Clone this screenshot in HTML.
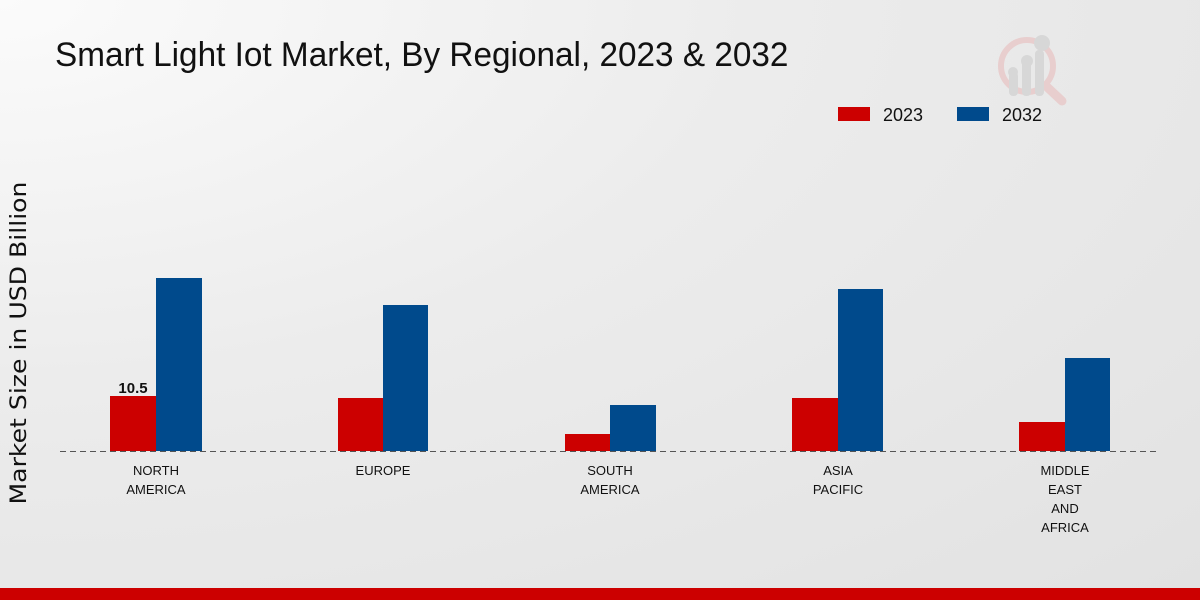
<!DOCTYPE html>
<html><head><meta charset="utf-8"><style>
html,body{margin:0;padding:0;width:1200px;height:600px;overflow:hidden;}
body{background:radial-gradient(ellipse at 0% 0%,#fbfbfb 0%,#ececec 45%,#e2e2e2 100%);position:relative;font-family:"Liberation Sans",sans-serif;}
.t{position:absolute;white-space:nowrap;}
</style></head><body>
<div class="t" style="left:55px;top:36px;font-size:34px;color:#111;transform:scaleX(0.98);transform-origin:left top;">Smart Light Iot Market, By Regional, 2023 &amp; 2032</div>
<svg width="1200" height="600" style="position:absolute;left:0;top:0">
 <g opacity="0.8">
  <circle cx="1027" cy="66" r="26" fill="none" stroke="#e8c8c8" stroke-width="6"/>
  <line x1="1046" y1="86" x2="1062" y2="101" stroke="#e8c8c8" stroke-width="9" stroke-linecap="round"/>
  <rect x="1009" y="72" width="9" height="24" rx="4" fill="#d3d3d3"/>
  <rect x="1022" y="60" width="9" height="36" rx="4" fill="#d3d3d3"/>
  <rect x="1035" y="50" width="9" height="46" rx="4" fill="#d3d3d3"/>
  <circle cx="1013" cy="72" r="5" fill="#d3d3d3"/><circle cx="1027" cy="61" r="6" fill="#d3d3d3"/><circle cx="1042" cy="43" r="8" fill="#d3d3d3"/>
 </g>
 <rect x="838" y="107" width="32" height="14" fill="#cc0000"/>
 <text x="883" y="121" font-size="18" fill="#111" font-family="Liberation Sans">2023</text>
 <rect x="957" y="107" width="32" height="14" fill="#004a8c"/>
 <text x="1002" y="121" font-size="18" fill="#111" font-family="Liberation Sans">2032</text>
 <g fill="#cc0000">
  <rect x="110" y="396" width="46" height="55"/><rect x="338" y="398" width="45" height="53"/>
  <rect x="565" y="434" width="45" height="17"/><rect x="792" y="398" width="46" height="53"/>
  <rect x="1019" y="422" width="46" height="29"/>
 </g>
 <g fill="#004a8c">
  <rect x="156" y="278" width="46" height="173"/><rect x="383" y="305" width="45" height="146"/>
  <rect x="610" y="405" width="46" height="46"/><rect x="838" y="289" width="45" height="162"/>
  <rect x="1065" y="358" width="45" height="93"/>
 </g>
 <line x1="60" y1="451.5" x2="1160" y2="451.5" stroke="#555" stroke-width="1" stroke-dasharray="6,4"/>
 <text x="133" y="393" font-size="15" font-weight="bold" text-anchor="middle" fill="#111" font-family="Liberation Sans">10.5</text>
 <g font-size="13" text-anchor="middle" fill="#111" font-family="Liberation Sans">
  <text x="156" y="475">NORTH</text><text x="156" y="494">AMERICA</text>
  <text x="383" y="475">EUROPE</text>
  <text x="610" y="475">SOUTH</text><text x="610" y="494">AMERICA</text>
  <text x="838" y="475">ASIA</text><text x="838" y="494">PACIFIC</text>
  <text x="1065" y="475">MIDDLE</text><text x="1065" y="494">EAST</text><text x="1065" y="513">AND</text><text x="1065" y="532">AFRICA</text>
 </g>
 <text transform="translate(26,343) rotate(-90)" font-size="22" text-anchor="middle" fill="#111" font-family="DejaVu Sans" textLength="323" lengthAdjust="spacingAndGlyphs">Market Size in USD Billion</text>
 <rect x="0" y="588" width="1200" height="12" fill="#cc0000"/>
</svg>
</body></html>
